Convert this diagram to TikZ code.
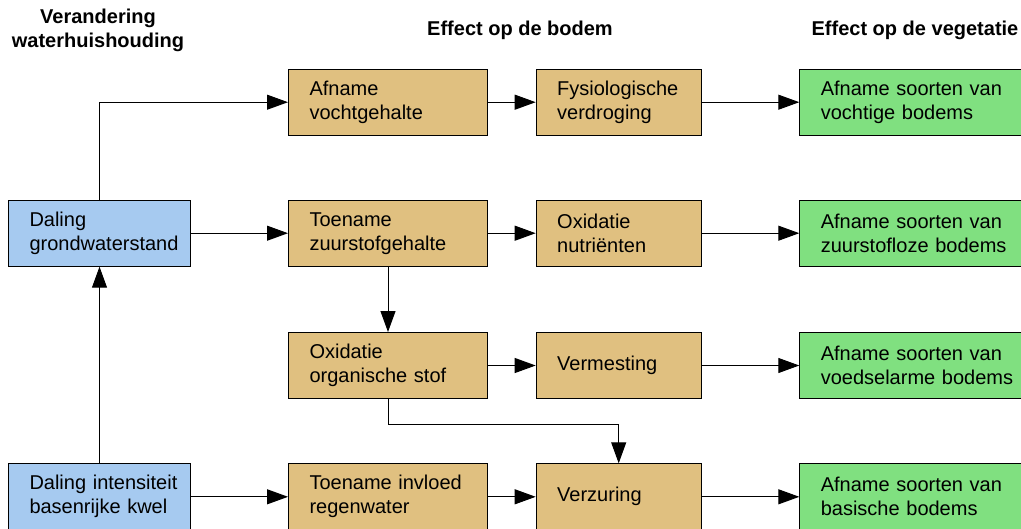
\documentclass[tikz,border=0pt]{standalone}
\usepackage{fontspec}
\setmainfont{Liberation Sans}
\usetikzlibrary{arrows.meta}
\definecolor{causefill}{RGB}{166,202,240}
\definecolor{soilfill}{RGB}{224,192,128}
\definecolor{vegfill}{RGB}{128,224,128}
\hyphenpenalty=10000

\begin{document}
\begin{tikzpicture}[>={Triangle[length=21pt, width=15pt]}, x=1pt, y=-1pt,
  font=\fontsize{20}{24}\selectfont, line width=1pt,
  box/.style={draw, anchor=north west, minimum height=66pt, inner xsep=21pt,
    inner ysep=0pt, align=left},
  cause/.style={box, fill=causefill, text width=140pt},
  soil/.style={box, fill=soilfill, text width=157pt},
  soilb/.style={box, fill=soilfill, text width=123pt},
  veg/.style={box, fill=vegfill, text width=200pt},
  head/.style={font=\bfseries\fontsize{20}{24}\selectfont, align=center}]
\clip (0,0) rectangle (1021,528);
% column headings
\node[head] (h1) at (98,30) {Verandering\\waterhuishouding};
\node[head] (h2) at (520,30.5) {Effect op de bodem};
\node[head] (h3) at (915,30.5) {Effect op de vegetatie};
% change in water regime
\node[cause] (grond) at (8,199.7) {Daling\\grondwaterstand};
\node[cause] (kwel) at (8,463.3) {Daling~intensiteit\\basenrijke~kwel};
% effect on the soil
\node[soil] (vocht) at (288,68.7) {Afname\\vochtgehalte};
\node[soil] (zuurstof) at (288,199.7) {Toename\\zuurstofgehalte};
\node[soil] (organisch) at (288,332) {Oxidatie\\organische stof};
\node[soil] (regen) at (288,463.3) {Toename~invloed\\regenwater};
\node[soilb] (fysio) at (535.7,68.7) {Fysiologische\\verdroging};
\node[soilb] (nutrient) at (535.7,199.7) {Oxidatie\\nutriënten};
\node[soilb] (vermest) at (535.7,332) {Vermesting};
\node[soilb] (verzuring) at (535.7,463.3) {Verzuring};
% effect on the vegetation
\node[veg] (vocht2) at (799.3,68.7) {Afname soorten van\\vochtige bodems};
\node[veg] (zuurstof2) at (799.3,199.7) {Afname soorten van\\zuurstofloze bodems};
\node[veg] (voedsel2) at (799.3,332) {Afname soorten van\\voedselarme bodems};
\node[veg] (basisch2) at (799.3,463.3) {Afname soorten van\\basische bodems};
% connectors
\draw[->] (grond.north) |- (vocht.west);
\draw[->] (grond) -- (zuurstof);
\draw[->] (kwel) -- (grond);
\draw[->] (kwel) -- (regen);
\draw[->] (vocht) -- (fysio);
\draw[->] (zuurstof) -- (nutrient);
\draw[->] (organisch) -- (vermest);
\draw[->] (regen) -- (verzuring);
\draw[->] (zuurstof) -- (organisch);
\draw[->] (organisch.south) -- ++(0,25) -| (verzuring.north);
\draw[->] (fysio) -- (vocht2);
\draw[->] (nutrient) -- (zuurstof2);
\draw[->] (vermest) -- (voedsel2);
\draw[->] (verzuring) -- (basisch2);
\end{tikzpicture}
\end{document}
